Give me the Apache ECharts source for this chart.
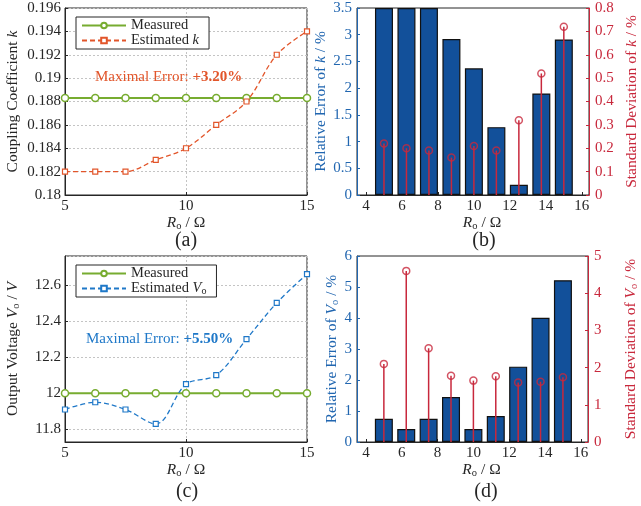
<!DOCTYPE html>
<html>
<head>
<meta charset="utf-8">
<script src="https://cdn.jsdelivr.net/npm/echarts@6/dist/echarts.min.js"></script>
<style>html,body{margin:0;padding:0;background:#fff;}#c{width:641px;height:506px;}</style>
</head>
<body>
<div id="c"></div>
<script>
// ---- data ----
const R = [5, 6.25, 7.5, 8.75, 10, 11.25, 12.5, 13.75, 15];
const kMeasured  = [0.1883, 0.1883, 0.1883, 0.1883, 0.1883, 0.1883, 0.1883, 0.1883, 0.1883];
const kEstimated = [0.182, 0.182, 0.182, 0.183, 0.184, 0.186, 0.188, 0.192, 0.194];
const kRelErr    = [3.5, 3.5, 3.5, 2.92, 2.37, 1.27, 0.19, 1.90, 2.91];
const kStd       = [0.22, 0.20, 0.19, 0.16, 0.21, 0.19, 0.32, 0.52, 0.72];
const vMeasured  = [12, 12, 12, 12, 12, 12, 12, 12, 12];
const vEstimated = [11.91, 11.95, 11.91, 11.83, 12.05, 12.10, 12.30, 12.50, 12.66];
const vRelErr    = [0.75, 0.42, 0.75, 1.45, 0.42, 0.84, 2.43, 4.01, 5.22];
const vStd       = [2.10, 4.60, 2.52, 1.78, 1.65, 1.77, 1.60, 1.62, 1.74];

const FONT = "'Liberation Serif','Times New Roman',serif";
const BLACK = '#262626';
const GREEN = '#77AC30';
const ORANGE = '#E2552A';
const BLUE_LINE = '#1F78C8';
const BAR_BLUE = '#12509A';
const AX_BLUE = '#2166B0';
const RED = '#C8283C';

const pair = (xs, ys) => xs.map((x, i) => [x, ys[i]]);

const grids = [
  {left: 65, top: 8, width: 242, height: 187},
  {left: 357, top: 8, width: 241, height: 187},
  {left: 65, top: 256, width: 242, height: 186},
  {left: 357, top: 256, width: 241, height: 186}
].map(g => Object.assign(g, {show: true, borderColor: BLACK, borderWidth: 1, backgroundColor: 'transparent', containLabel: false}));

const richName = (color) => ({
  n: {fontFamily: FONT, fontSize: 15.5, color: color, lineHeight: 18},
  i: {fontFamily: FONT, fontSize: 15.5, color: color, fontStyle: 'italic', lineHeight: 18},
  s: {fontFamily: FONT, fontSize: 10.5, color: color, lineHeight: 10, verticalAlign: 'bottom'}
});

const gridSplit = {show: true, lineStyle: {color: '#c4c4c4', type: [2, 2], width: 1}};

function xLineAxis(gi) {
  return {
    type: 'value', gridIndex: gi, min: 5, max: 15, interval: 5,
    axisLine: {show: true, onZero: false, lineStyle: {color: BLACK}},
    axisTick: {show: true, inside: true, length: 3, lineStyle: {color: BLACK}},
    axisLabel: {fontFamily: FONT, fontSize: 15, color: BLACK, margin: 4},
    splitLine: gridSplit,
    name: '{i|R}{s|o}{n| / Ω}', nameLocation: 'middle', nameGap: 18,
    nameTextStyle: {rich: richName(BLACK)}
  };
}
function xBarAxis(gi) {
  return {
    type: 'value', gridIndex: gi, min: 3.5, max: 16.4, splitNumber: 6,
    axisLine: {show: true, onZero: false, lineStyle: {color: BLACK}},
    axisTick: {show: true, inside: true, length: 3, lineStyle: {color: BLACK}},
    axisLabel: {fontFamily: FONT, fontSize: 15, color: BLACK, margin: 4, showMinLabel: false, showMaxLabel: false},
    splitLine: {show: false},
    name: '{i|R}{s|o}{n| / Ω}', nameLocation: 'middle', nameGap: 18,
    nameTextStyle: {rich: richName(BLACK), padding: [0, 0, 0, 18]}
  };
}
function yAxisBase(gi, extra) {
  return Object.assign({
    type: 'value', gridIndex: gi,
    axisLine: {show: true, onZero: false, lineStyle: {color: BLACK}},
    axisTick: {show: true, inside: true, length: 3, lineStyle: {color: BLACK}},
    axisLabel: {fontFamily: FONT, fontSize: 15, color: BLACK, margin: 4},
    splitLine: {show: false},
    nameLocation: 'middle', nameRotate: 90
  }, extra);
}

const xAxis = [xLineAxis(0), xBarAxis(1), xLineAxis(2), xBarAxis(3)];
const yAxis = [
  yAxisBase(0, {min: 0.18, max: 0.196, interval: 0.002, splitLine: gridSplit,
    name: '{n|Coupling Coefficient }{i|k}', nameGap: 43, nameTextStyle: {rich: richName(BLACK)}}),
  yAxisBase(1, {min: 0, max: 3.5, interval: 0.5, position: 'left',
    axisLine: {show: true, onZero: false, lineStyle: {color: AX_BLUE}},
    axisTick: {show: true, inside: true, length: 3, lineStyle: {color: AX_BLUE}},
    axisLabel: {fontFamily: FONT, fontSize: 15, color: AX_BLUE, margin: 5},
    name: '{n|Relative Error of }{i|k}{n| / %}', nameGap: 16, nameTextStyle: {rich: richName(AX_BLUE)}}),
  yAxisBase(1, {min: 0, max: 0.8, interval: 0.1, position: 'right',
    axisLine: {show: true, onZero: false, lineStyle: {color: RED}},
    axisTick: {show: true, inside: true, length: 3, lineStyle: {color: RED}},
    axisLabel: {fontFamily: FONT, fontSize: 15, color: RED, margin: 6},
    name: '{n|Standard Deviation of }{i|k}{n| / %}', nameGap: 34, nameTextStyle: {rich: richName(RED)}}),
  yAxisBase(2, {min: 11.73, max: 12.76, splitNumber: 5, splitLine: gridSplit,
    axisLabel: {fontFamily: FONT, fontSize: 15, color: BLACK, margin: 4, showMinLabel: false, showMaxLabel: false},
    name: '{n|Output Voltage }{i|V}{s|o}{n| / }{i|V}', nameGap: 43, nameTextStyle: {rich: richName(BLACK)}}),
  yAxisBase(3, {min: 0, max: 6, interval: 1, position: 'left',
    axisLine: {show: true, onZero: false, lineStyle: {color: AX_BLUE}},
    axisTick: {show: true, inside: true, length: 3, lineStyle: {color: AX_BLUE}},
    axisLabel: {fontFamily: FONT, fontSize: 15, color: AX_BLUE, margin: 5},
    name: '{n|Relative Error of }{i|V}{s|o}{n| / %}', nameGap: 16, nameTextStyle: {rich: richName(AX_BLUE)}}),
  yAxisBase(3, {min: 0, max: 5, interval: 1, position: 'right',
    axisLine: {show: true, onZero: false, lineStyle: {color: RED}},
    axisTick: {show: true, inside: true, length: 3, lineStyle: {color: RED}},
    axisLabel: {fontFamily: FONT, fontSize: 15, color: RED, margin: 6},
    name: '{n|Standard Deviation of }{i|V}{s|o}{n| / %}', nameGap: 34, nameTextStyle: {rich: richName(RED)}})
];

function measuredSeries(name, xi, yi, vals) {
  return {
    type: 'line', name: name, xAxisIndex: xi, yAxisIndex: yi, data: pair(R, vals),
    symbol: 'circle', symbolSize: 7, z: 3,
    lineStyle: {color: GREEN, width: 2},
    itemStyle: {color: '#ffffff', borderColor: GREEN, borderWidth: 1.5}
  };
}
function estimatedSeries(name, xi, yi, vals, color) {
  return {
    type: 'line', name: name, xAxisIndex: xi, yAxisIndex: yi, data: pair(R, vals),
    symbol: 'rect', symbolSize: 5, smooth: 0.35, z: 4,
    lineStyle: {color: color, width: 1.3, type: [5, 3]},
    itemStyle: {color: '#ffffff', borderColor: color, borderWidth: 1.2}
  };
}
function barSeries(xi, yi, vals) {
  return {
    type: 'bar', xAxisIndex: xi, yAxisIndex: yi, data: pair(R, vals), barWidth: 18,
    itemStyle: {color: BAR_BLUE, borderColor: '#111', borderWidth: 1.2}, z: 2
  };
}
function stemSeries(xi, yi, vals) {
  return {
    type: 'custom', xAxisIndex: xi, yAxisIndex: yi, data: pair(R, vals), z: 5,
    encode: {x: 0, y: 1},
    renderItem: function (params, api) {
      const p0 = api.coord([api.value(0), 0]);
      const p1 = api.coord([api.value(0), api.value(1)]);
      return {type: 'line', shape: {x1: p0[0], y1: p0[1], x2: p1[0], y2: p1[1]},
        style: {stroke: RED, lineWidth: 1.5}};
    }
  };
}
function stemHeads(xi, yi, vals) {
  return {
    type: 'scatter', xAxisIndex: xi, yAxisIndex: yi, data: pair(R, vals), z: 6,
    symbol: 'circle', symbolSize: 7,
    itemStyle: {color: 'rgba(0,0,0,0)', borderColor: RED, borderWidth: 1.5}
  };
}

const legendRich = {
  n: {fontFamily: FONT, fontSize: 14.5, color: BLACK},
  i: {fontFamily: FONT, fontSize: 14.5, color: BLACK, fontStyle: 'italic'},
  s: {fontFamily: FONT, fontSize: 10, color: BLACK, verticalAlign: 'bottom', lineHeight: 10}
};
function legend(top, names, fmt) {
  return {
    data: names, orient: 'vertical', left: 76, top: top, itemGap: 0, itemWidth: 44, itemHeight: 7,
    padding: [1, 10, 1, 5], borderColor: BLACK, borderWidth: 1, backgroundColor: '#fff', borderRadius: 0,
    selectedMode: false,
    textStyle: {fontFamily: FONT, fontSize: 14.5, color: BLACK, lineHeight: 15, rich: legendRich},
    formatter: fmt
  };
}

const option = {
  animation: false,
  backgroundColor: '#fff',
  grid: grids,
  xAxis: xAxis,
  yAxis: yAxis,
  legend: [
    legend(17, ['Measured', 'Estimated k'], n => n === 'Measured' ? '{n|Measured}' : '{n|Estimated }{i|k}'),
    legend(265, ['Measured ', 'Estimated Vo'], n => n === 'Measured ' ? '{n|Measured}' : '{n|Estimated }{i|V}{s|o}')
  ],
  series: [
    measuredSeries('Measured', 0, 0, kMeasured),
    estimatedSeries('Estimated k', 0, 0, kEstimated, ORANGE),
    barSeries(1, 1, kRelErr),
    stemSeries(1, 2, kStd),
    stemHeads(1, 2, kStd),
    measuredSeries('Measured ', 2, 3, vMeasured),
    estimatedSeries('Estimated Vo', 2, 3, vEstimated, BLUE_LINE),
    barSeries(3, 4, vRelErr),
    stemSeries(3, 5, vStd),
    stemHeads(3, 5, vStd)
  ],
  graphic: [
    {type: 'text', left: 95, top: 70, z: 10, style: {
      text: '{n|Maximal Error: }{b|+3.20%}',
      rich: {n: {fontFamily: FONT, fontSize: 15, fill: ORANGE, color: ORANGE}, b: {fontFamily: FONT, fontSize: 15, fontWeight: 'bold', fill: ORANGE, color: ORANGE}}
    }},
    {type: 'text', left: 86, top: 332, z: 10, style: {
      text: '{n|Maximal Error: }{b|+5.50%}',
      rich: {n: {fontFamily: FONT, fontSize: 15, fill: BLUE_LINE, color: BLUE_LINE}, b: {fontFamily: FONT, fontSize: 15, fontWeight: 'bold', fill: BLUE_LINE, color: BLUE_LINE}}
    }},
    {type: 'text', x: 186, y: 241, style: {text: '(a)', font: "20px 'Liberation Serif', serif", fill: BLACK, align: 'center', verticalAlign: 'middle'}},
    {type: 'text', x: 484, y: 241, style: {text: '(b)', font: "20px 'Liberation Serif', serif", fill: BLACK, align: 'center', verticalAlign: 'middle'}},
    {type: 'text', x: 187, y: 492, style: {text: '(c)', font: "20px 'Liberation Serif', serif", fill: BLACK, align: 'center', verticalAlign: 'middle'}},
    {type: 'text', x: 486, y: 492, style: {text: '(d)', font: "20px 'Liberation Serif', serif", fill: BLACK, align: 'center', verticalAlign: 'middle'}}
  ]
};

const chart = echarts.init(document.getElementById('c'), null, {renderer: 'canvas'});
chart.setOption(option);
</script>
</body>
</html>
